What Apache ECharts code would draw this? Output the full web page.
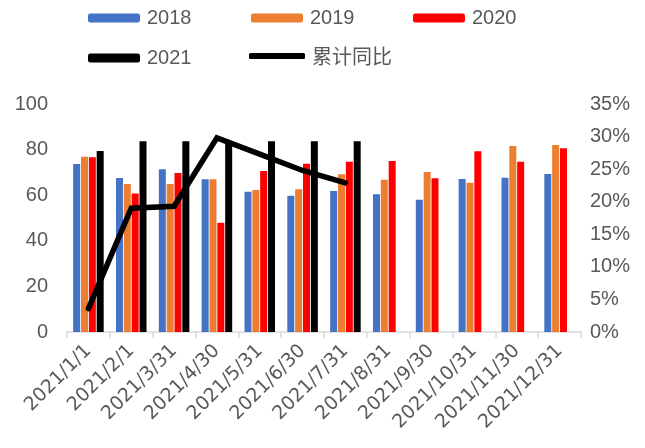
<!DOCTYPE html>
<html>
<head>
<meta charset="utf-8">
<script src="https://cdn.jsdelivr.net/npm/echarts@6/dist/echarts.min.js"></script>
<style>html,body{margin:0;padding:0;background:#fff}#c{width:645px;height:448px}</style>
</head>
<body>
<div id="c"></div>
<script>
var categories = ['2021/1/1','2021/2/1','2021/3/31','2021/4/30','2021/5/31','2021/6/30','2021/7/31','2021/8/31','2021/9/30','2021/10/31','2021/11/30','2021/12/31'];
var s2018 = [73.7, 67.5, 71.4, 67.0, 61.5, 59.8, 61.8, 60.4, 58.0, 67.1, 67.7, 69.3];
var s2019 = [76.9, 64.9, 64.9, 67.0, 62.3, 62.6, 69.2, 66.8, 70.2, 65.5, 81.6, 82.0];
var s2020 = [76.6, 60.7, 69.7, 47.9, 70.6, 73.8, 74.7, 75.0, 67.4, 79.3, 74.7, 80.6];
var s2021 = [79.4, 83.7, 83.7, 83.7, 83.7, 83.7, 83.7, null, null, null, null, null];
var cumYoY = [3.6, 19.0, 19.3, 29.8, 27.3, 24.8, 22.9, null, null, null, null, null];
var leftTicks = {min: 0, max: 100, interval: 20};
var rightTicks = {min: 0, max: 35, interval: 5};

var txt = '#595959';
var font = 'Liberation Sans, Arial, sans-serif';
var chart = echarts.init(document.getElementById('c'));
function leg(name, left, top, extra) {
  var o = {data: [name], left: left, top: top, itemWidth: 52, itemHeight: 9, itemGap: 0,
    textStyle: {color: txt, fontSize: 20, fontFamily: font, padding: [0, 0, 0, 2]}, padding: 0};
  if (extra) for (var k in extra) o[k] = extra[k];
  return o;
}
var barBase = {type: 'bar', barWidth: 7, barGap: '12%', yAxisIndex: 0};
chart.setOption({
  animation: false,
  legend: [
    leg('2018', 88, 8),
    leg('2019', 251, 8),
    leg('2020', 413, 8),
    leg('2021', 88, 48),
    leg('累计同比', 249, 46, {data: [{name: '累计同比', icon: 'roundRect'}], itemWidth: 56, itemHeight: 6,
      textStyle: {color: txt, fontSize: 20, fontFamily: 'Noto Sans CJK SC, sans-serif', padding: [0,0,0,2]}})
  ],
  grid: {left: 67, right: 64, top: 104, bottom: 116},
  xAxis: {
    type: 'category', data: categories,
    axisLine: {lineStyle: {color: '#d9d9d9', width: 1.5}},
    axisTick: {show: true, length: 6, lineStyle: {color: '#d9d9d9', width: 1.5}},
    axisLabel: {rotate: 45, color: txt, fontSize: 19, fontFamily: 'DejaVu Sans, sans-serif', margin: 16, interval: 0}
  },
  yAxis: [
    {type: 'value', min: leftTicks.min, max: leftTicks.max, interval: leftTicks.interval,
      splitLine: {show: false}, axisLine: {show: false}, axisTick: {show: false},
      axisLabel: {color: txt, fontSize: 20, fontFamily: font, margin: 19}},
    {type: 'value', min: rightTicks.min, max: rightTicks.max, interval: rightTicks.interval,
      splitLine: {show: false}, axisLine: {show: false}, axisTick: {show: false},
      axisLabel: {color: txt, fontSize: 20, fontFamily: font, margin: 9, formatter: '{value}%'}}
  ],
  series: [
    Object.assign({}, barBase, {name: '2018', data: s2018, itemStyle: {color: '#4472c4'}}),
    Object.assign({}, barBase, {name: '2019', data: s2019, itemStyle: {color: '#ed7d31'}}),
    Object.assign({}, barBase, {name: '2020', data: s2020, itemStyle: {color: '#ff0000'}}),
    Object.assign({}, barBase, {name: '2021', data: s2021, itemStyle: {color: '#000000'}}),
    {name: '累计同比', type: 'line', yAxisIndex: 1, data: cumYoY, symbol: 'none',
      lineStyle: {color: '#000', width: 5.5, cap: 'round', join: 'miter'}, itemStyle: {color: '#000'}, z: 5}
  ]
});
</script>
</body>
</html>
